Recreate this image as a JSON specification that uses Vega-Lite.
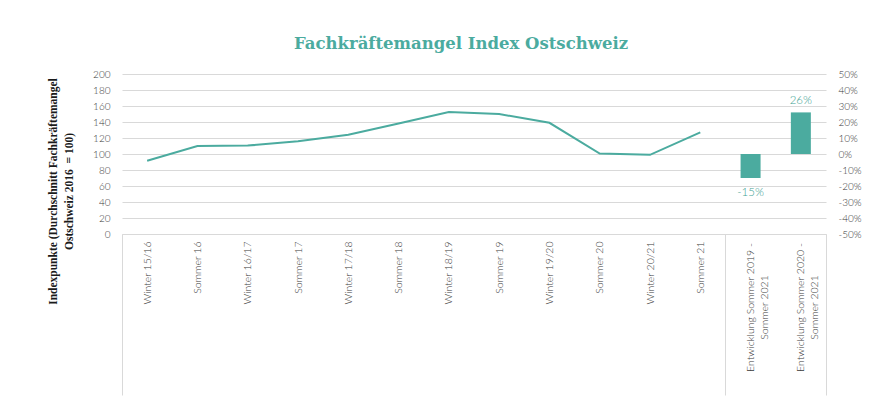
{
  "$schema": "https://vega.github.io/schema/vega-lite/v6.json",
  "width": 704,
  "height": 160,
  "autosize": {"type": "none"},
  "padding": {"left": 122, "top": 74, "right": 59, "bottom": 178},
  "background": "white",
  "title": {
    "text": "Fachkräftemangel Index Ostschweiz",
    "font": "DejaVu Serif",
    "fontWeight": "bold",
    "fontSize": 16.5,
    "color": "#4bab9f",
    "anchor": "middle",
    "frame": "group",
    "offset": 17,
    "dx": -13
  },
  "config": {
    "view": {"stroke": null},
    "axis": {"labelFont": "Lato", "labelFontWeight": 300, "labelColor": "#3a3a3a", "labelFontSize": 10}
  },
  "encoding": {
    "x": {
      "field": "periode",
      "type": "nominal",
      "sort": null,
      "scale": {
        "domain": ["Winter 15/16", "Sommer 16", "Winter 16/17", "Sommer 17", "Winter 17/18", "Sommer 18", "Winter 18/19", "Sommer 19", "Winter 19/20", "Sommer 20", "Winter 20/21", "Sommer 21", "Entwicklung Sommer 2019 - Sommer 2021", "Entwicklung Sommer 2020 - Sommer 2021"],
        "paddingInner": 0,
        "paddingOuter": 0
      },
      "axis": {
        "title": null,
        "labelAngle": -90,
        "labelBaseline": "middle",
        "labelFontSize": 10.5,
        "labelAlign": {"condition": {"test": "length(datum.label || '') > 20", "value": "center"}, "value": "right"},
        "labelPadding": {"condition": {"test": "length(datum.label || '') > 20", "value": -88}, "value": -154},
        "labelExpr": "length(datum.label) > 20 ? [slice(datum.label, 0, 25), slice(datum.label, 26)] : datum.label",
        "labelLineHeight": 14,
        "tickBand": "extent",
        "tickSize": 161,
        "tickColor": "#d9d9d9",
        "tickOpacity": {"condition": {"test": "!datum.value || datum.value === 'Sommer 21' || datum.value === 'Entwicklung Sommer 2020 - Sommer 2021'", "value": 1}, "value": 0},
        "domainColor": "#d9d9d9",
        "grid": false
      }
    }
  },
  "layer": [
    {
      "data": {
        "values": [
          {"periode": "Winter 15/16", "index": 91.5},
          {"periode": "Sommer 16", "index": 110},
          {"periode": "Winter 16/17", "index": 110.5},
          {"periode": "Sommer 17", "index": 116},
          {"periode": "Winter 17/18", "index": 124},
          {"periode": "Sommer 18", "index": 138},
          {"periode": "Winter 18/19", "index": 152.5},
          {"periode": "Sommer 19", "index": 150},
          {"periode": "Winter 19/20", "index": 139},
          {"periode": "Sommer 20", "index": 100.5},
          {"periode": "Winter 20/21", "index": 99},
          {"periode": "Sommer 21", "index": 127}
        ]
      },
      "mark": {"type": "line", "color": "#4bab9f", "strokeWidth": 2},
      "encoding": {
        "y": {
          "field": "index",
          "type": "quantitative",
          "scale": {"domain": [0, 200], "nice": false},
          "axis": {
            "values": [0, 20, 40, 60, 80, 100, 120, 140, 160, 180, 200],
            "grid": true,
            "gridColor": "#d9d9d9",
            "domain": false,
            "ticks": false,
            "labelPadding": 12,
            "title": ["Indexpunkte (Durchschnitt Fachkräftemangel", "Ostschweiz 2016\u00a0 = 100)"],
            "titleFont": "Liberation Serif",
            "titleFontWeight": "bold",
            "titleFontSize": 11.5,
            "titleColor": "#1a1a1a",
            "titleLineHeight": 16,
            "titleAngle": -90,
            "titleBaseline": "middle",
            "titleAlign": "center",
            "titleX": -69,
            "titleY": 117
          }
        }
      }
    },
    {
      "data": {
        "values": [
          {"periode": "Entwicklung Sommer 2019 - Sommer 2021", "change": -0.15, "label": "-15%"},
          {"periode": "Entwicklung Sommer 2020 - Sommer 2021", "change": 0.26, "label": "26%"}
        ]
      },
      "encoding": {
        "y": {
          "field": "change",
          "type": "quantitative",
          "scale": {"domain": [-0.5, 0.5], "nice": false},
          "axis": {
            "orient": "right",
            "title": null,
            "values": [-0.5, -0.4, -0.3, -0.2, -0.1, 0, 0.1, 0.2, 0.3, 0.4, 0.5],
            "labelExpr": "round(datum.value * 100) + '%'",
            "grid": false,
            "domain": false,
            "ticks": false,
            "labelPadding": 12
          }
        }
      },
      "layer": [
        {"mark": {"type": "bar", "color": "#4bab9f", "width": 20}},
        {
          "transform": [{"filter": "datum.change < 0"}],
          "mark": {"type": "text", "baseline": "top", "dy": 9, "font": "Lato", "fontWeight": 300, "fontSize": 11.5, "color": "#3f9f93"},
          "encoding": {"text": {"field": "label"}}
        },
        {
          "transform": [{"filter": "datum.change >= 0"}],
          "mark": {"type": "text", "baseline": "bottom", "dy": -6, "font": "Lato", "fontWeight": 300, "fontSize": 11.5, "color": "#3f9f93"},
          "encoding": {"text": {"field": "label"}}
        }
      ]
    }
  ],
  "resolve": {"scale": {"y": "independent"}, "axis": {"y": "independent"}}
}
